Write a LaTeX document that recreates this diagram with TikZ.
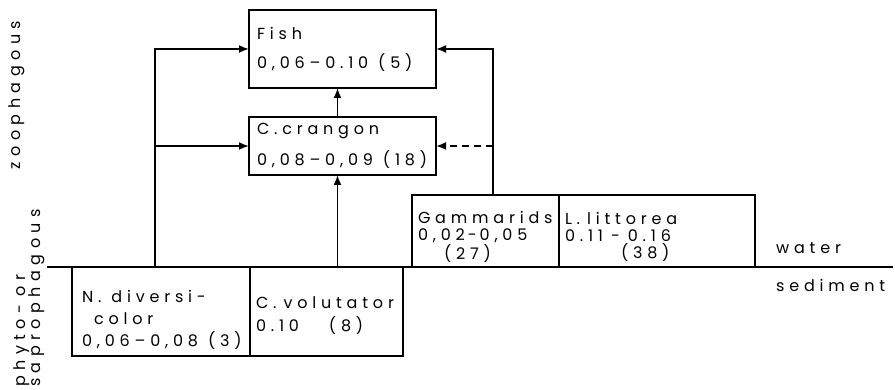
\documentclass[tikz,border=0pt]{standalone}
\usepackage{fontspec}
\setmainfont{Poppins}[LetterSpace=30]
\newfontfamily\sidefont{Poppins}[LetterSpace=34]
\usepackage{tikz}
\usetikzlibrary{arrows.meta,positioning,calc}
\newcommand{\gap}[1][8pt]{\hspace{#1}}

\begin{document}
\begin{tikzpicture}[
  x=1pt, y=1pt,
  >={Latex[length=10pt,width=8pt]},
  font=\fontsize{16}{17}\selectfont,
  box/.style={
    draw,
    line width=1.5pt,
    outer sep=0pt,
    inner xsep=6pt,
    inner ysep=2pt,
    align=left
  },
  upper/.style={
    box,
    inner xsep=8pt
  },
  lab/.style={
    inner sep=0pt
  },
  side/.style={
    lab,
    rotate=90,
    anchor=west,
    font=\fontsize{16}{17}\sidefont
  },
  edge/.style={
    draw=black,
    line width=1.8pt
  },
  food/.style={
    edge,
    ->
  }
]
\useasboundingbox (0,0) rectangle (895,390);

% Side labels
\node[side, anchor=center] (zoo) at (17,295) {zoophagous};
\node[side] (phyto) at (22,3) {phyto-\gap or};
\node[side] (sapro) at (37,3) {saprophagous};

% Consumers
\node[upper, text width=171pt, minimum height=78pt,
      font=\fontsize{16}{29}\selectfont] (fish) at (342.5,341)
  {Fish\\0,06--0.10\gap[10pt](5)};
\node[upper, text width=171pt, minimum height=58pt,
      font=\fontsize{16}{31}\selectfont] (crangon) at (342.5,244)
  {C.crangon\\0,08--0,09\gap[10pt](18)};

% Water column
\node[box, text width=135pt, minimum height=72pt] (gamm) at (485.5,159)
  {\rule{0pt}{24pt}Gammarids\\0,02\gap[3pt]-\gap[3pt]0,05\\\hspace*{26pt}(27)};
\node[box, text width=184pt, minimum height=72pt] (litt) at (657,159)
  {\rule{0pt}{24pt}L.\gap[7pt]littorea\\0.11\gap-\gap0.16\\\hspace*{56pt}(38)};

% Sediment
\node[box, text width=158pt, minimum height=89pt, inner xsep=10pt,
      font=\fontsize{16}{22}\selectfont] (nerei) at (161,78.5)
  {\rule{0pt}{28pt}N.\gap[10pt]diversi-\\\hspace*{12pt}color\\0,06--0,08\gap[10pt](3)};
\node[box, text width=141pt, minimum height=89pt,
      font=\fontsize{16}{23}\selectfont] (coro) at (326.5,78.5)
  {\rule{0pt}{20pt}C.\gap[7pt]volutator\\0.10\gap[30pt](8)};

% Water / sediment boundary
\coordinate (shoreW) at (47,123);
\coordinate (shoreE) at (893,123);
\draw[edge] (shoreW) -- (shoreE);
\node[lab, anchor=west] (water) at (776,142) {water};
\node[lab, anchor=west] (sed) at (776,105) {sediment};

% Feeding links
\coordinate (nup) at ($(nerei.north)+(-6,0)$);
\coordinate (cup) at ($(crangon.south)+(-5,0)$);
\coordinate (gup) at ($(gamm.north)+(7.5,0)$);

\draw[food] (nup) |- (fish.west);
\draw[food] (nup |- crangon.west) -- (crangon.west);
\draw[food] (cup |- coro.north) -- (cup);
\draw[food] ($(crangon.north)+(-5,0)$) -- ($(fish.south)+(-5,0)$);
\draw[food] (gup) |- (fish.east);
\draw[food, dash pattern=on 7pt off 5pt] (gup |- crangon.east) -- (crangon.east);

\end{tikzpicture}
\end{document}
